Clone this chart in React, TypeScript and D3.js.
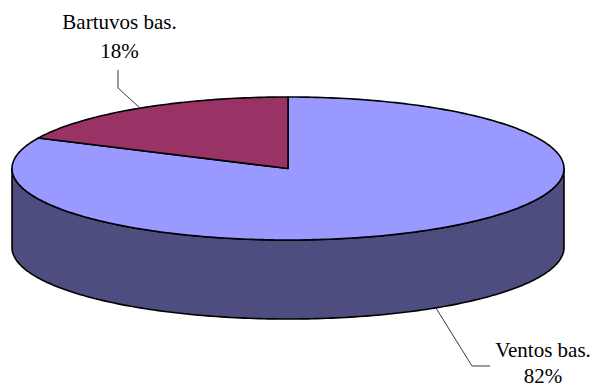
import React from "react";
import * as d3 from "d3";

// Share of each category, in percent
const categories = ["Ventos bas.", "Bartuvos bas."];
const shares = [82, 18];
const percentLabels = ["82%", "18%"];
const topColors = ["#9999FF", "#993366"];
const sideColors = ["#4D4D7F", "#5C1F3D"];

const W = 596;
const H = 388;

// Tilted pie geometry
const cx = 288;
const cy = 168.5;
const rx = 276;
const ry = 71.5;
const depth = 79;

// Label placement: leader elbow + end, text centre and first baseline
const labelLayout = [
  { face: "bottom", elbow: [472, 366], end: [490, 366], tx: 543, ty: 357, lineGap: 26 },
  { face: "top", elbow: [118, 88], end: [118, 70], tx: 119.5, ty: 29, lineGap: 29 },
];

const pt = (a: number, dy = 0): [number, number] => [cx + rx * Math.sin(a), cy + dy - ry * Math.cos(a)];

const sampleArc = (a0: number, a1: number, dy = 0): [number, number][] => {
  const n = Math.max(2, Math.ceil((Math.abs(a1 - a0) / (2 * Math.PI)) * 360));
  return d3.range(n + 1).map((i) => pt(a0 + ((a1 - a0) * i) / n, dy));
};

const line = d3.line<[number, number]>();

export default function App() {
  const arcs = d3.pie<number>().sort(null).value((d) => d)(shares);

  // Front wall segments: only the part of each slice facing the viewer (90°..270°)
  const sides = arcs
    .map((a, i) => {
      const s = Math.max(a.startAngle, Math.PI / 2);
      const e = Math.min(a.endAngle, (3 * Math.PI) / 2);
      if (e <= s) return null;
      const topPts = sampleArc(s, e, 0);
      const botPts = sampleArc(e, s, depth);
      return { i, d: line([...topPts, ...botPts])! + "Z" };
    })
    .filter(Boolean) as { i: number; d: string }[];

  const tops = arcs.map((a, i) => ({
    i,
    d: line([[cx, cy], ...sampleArc(a.startAngle, a.endAngle, 0)])! + "Z",
  }));

  const labels = arcs.map((a, i) => {
    const mid = (a.startAngle + a.endAngle) / 2;
    const L = labelLayout[i];
    const anchor = pt(mid, L.face === "bottom" ? depth : 0);
    return { i, anchor, L };
  });

  return (
    <svg
      width={W}
      height={H}
      viewBox={`0 0 ${W} ${H}`}
      style={{ position: "absolute", left: 0, top: 0, background: "#fff" }}
    >
      <g stroke="#000" strokeWidth={1.6} strokeLinejoin="round">
        {sides.map((s) => (
          <path key={"side" + s.i} d={s.d} fill={sideColors[s.i]} />
        ))}
        {tops.map((t) => (
          <path key={"top" + t.i} d={t.d} fill={topColors[t.i]} />
        ))}
      </g>
      <g fill="none" stroke="#222" strokeWidth={0.9}>
        {labels.map(({ i, anchor, L }) => (
          <polyline key={"lead" + i} points={[anchor, L.elbow, L.end].map((p) => p.join(",")).join(" ")} />
        ))}
      </g>
      <g fontFamily="'Liberation Serif', 'Times New Roman', serif" fontSize={21} fill="#000" textAnchor="middle">
        {labels.map(({ i, L }) => (
          <text key={"lab" + i} x={L.tx} y={L.ty}>
            <tspan x={L.tx} y={L.ty}>{categories[i]}</tspan>
            <tspan x={L.tx} y={L.ty + L.lineGap}>{percentLabels[i]}</tspan>
          </text>
        ))}
      </g>
    </svg>
  );
}
